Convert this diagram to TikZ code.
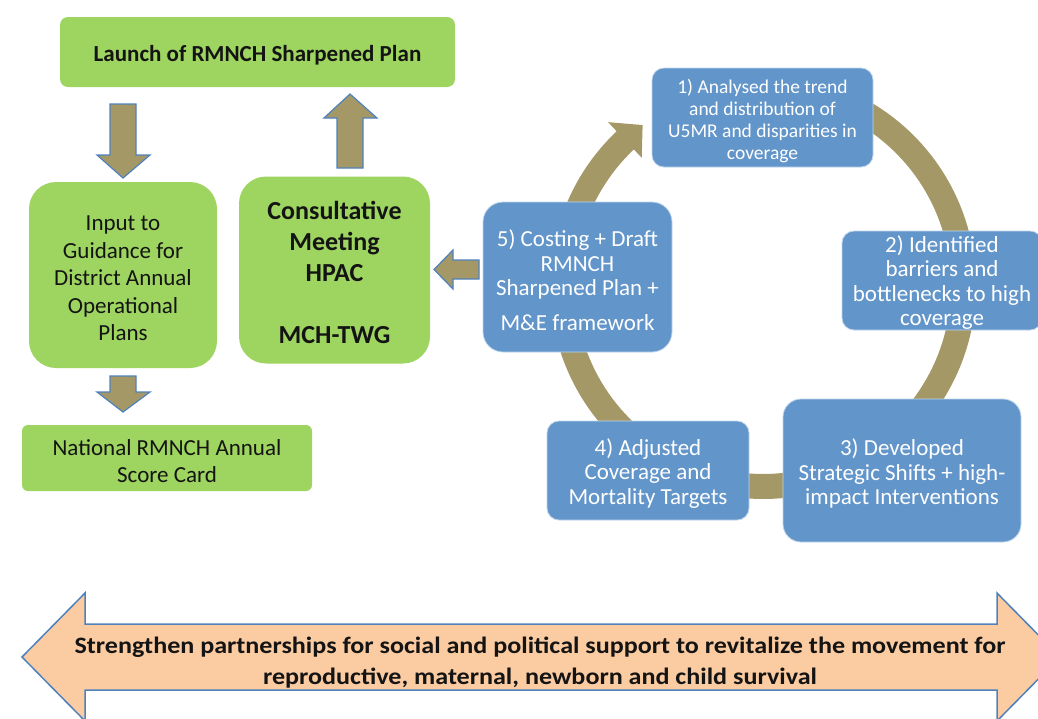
\documentclass[tikz,border=0pt]{standalone}
\usepackage{fontspec}
\setmainfont{Carlito}
\newfontfamily\widefont[FakeStretch=1.11]{Carlito}
\definecolor{grn}{RGB}{158,212,96}
\definecolor{blu}{RGB}{98,149,201}
\definecolor{bluedge}{RGB}{190,212,236}
\definecolor{olv}{RGB}{164,152,102}
\definecolor{arrb}{RGB}{79,129,189}
\definecolor{peach}{RGB}{251,203,161}
\definecolor{txt}{RGB}{20,20,20}
\begin{document}
\begin{tikzpicture}[x=1pt,y=-1pt,
  gbox/.style={fill=grn, inner sep=0pt},
  bbox/.style={fill=blu, draw=bluedge, line width=0.8pt, inner sep=0pt},
  gtext/.style={inner sep=0pt, align=center, text=txt},
  btext/.style={inner sep=0pt, align=center, text=white},
  blockarr/.style={fill=olv, draw=arrb, line width=1.2pt, line join=miter},
  reg/.style={font=\fontsize{23}{24.5}\selectfont}
]
\useasboundingbox (0,0) rectangle (1038,718);
\clip (0,0) rectangle (1038,718);

% ring with arrowhead
\fill[olv] plot[domain=-70:226.6,samples=150] ({763+213*cos(\x)},{286+213*sin(\x)})
  -- ({763+225.5*cos(226.6)},{286+225.5*sin(226.6)})
  -- ({763+201*cos(233.2)},{286+201*sin(233.2)})
  -- ({763+176.5*cos(226.6)},{286+176.5*sin(226.6)})
  -- plot[domain=226.6:-70,samples=150] ({763+188*cos(\x)},{286+188*sin(\x)}) -- cycle;

% green boxes
\node[gbox, rounded corners=8pt, minimum width=395pt, minimum height=70pt] (launch) at (257.5,52) {};
\node[gtext, font=\bfseries\fontsize{23}{27}\selectfont] (launcht) at ([yshift=-3pt]launch.center)
  {Launch of RMNCH Sharpened Plan};
\node[gbox, rounded corners=27pt, minimum width=188pt, minimum height=186pt] (input) at (123,275) {};
\node[gtext, font=\fontsize{23}{27.5}\selectfont] (inputt) at ([yshift=-3.5pt]input.center)
  {Input to\\Guidance for\\District Annual\\Operational\\Plans};
\node[gbox, rounded corners=27pt, minimum width=191pt, minimum height=187pt] (consult) at (334.5,270) {};
\node[gtext, font=\bfseries\fontsize{26}{31}\selectfont] (consultt) at ([yshift=-2pt]consult.center)
  {Consultative\\Meeting\\HPAC\\[31pt]MCH-TWG};
\node[gbox, rounded corners=6pt, minimum width=290pt, minimum height=66pt] (score) at (167,458) {};
\node[gtext, font=\fontsize{23}{27}\selectfont] (scoret) at ([yshift=-3pt]score.center)
  {National RMNCH Annual\\Score Card};

% blue boxes
\node[bbox, rounded corners=12pt, minimum width=221pt, minimum height=99pt] (s1) at (762.5,117.5) {};
\node[btext, font=\fontsize{19.5}{22}\selectfont] (s1t) at ([yshift=-3.5pt]s1.center)
  {1) Analysed the trend\\and distribution of\\U5MR and disparities in\\coverage};
\node[bbox, rounded corners=12pt, minimum width=200pt, minimum height=99pt] (s2) at (942,280.5) {};
\node[btext, reg] (s2t) at ([yshift=-2pt]s2.center)
  {2) Identified\\barriers and\\bottlenecks to high\\coverage};
\node[bbox, rounded corners=18pt, minimum width=238pt, minimum height=143pt] (s3) at (902,470.5) {};
\node[btext, reg] (s3t) at ([yshift=-3pt]s3.center)
  {3) Developed\\Strategic Shifts + high-\\impact Interventions};
\node[bbox, rounded corners=12pt, minimum width=202pt, minimum height=99pt] (s4) at (648,470.5) {};
\node[btext, reg] (s4t) at ([yshift=-3pt]s4.center)
  {4) Adjusted\\Coverage and\\Mortality Targets};
\node[bbox, rounded corners=20pt, minimum width=189pt, minimum height=150pt] (s5) at (577.5,277) {};
\node[btext, reg] (s5t) at ([yshift=-3pt]s5.center)
  {5) Costing + Draft\\RMNCH\\Sharpened Plan +\\[10pt]M\&E framework};

% block arrows
\draw[blockarr] (110,104) -- (136,104) -- (136,155) -- (150,155) -- (123,178) -- (97,155) -- (110,155) -- cycle;
\draw[blockarr] (337,168) -- (363,168) -- (363,118) -- (377,118) -- (350,94) -- (324,118) -- (337,118) -- cycle;
\draw[blockarr] (110,376) -- (136,376) -- (136,392) -- (150,392) -- (123,412) -- (97,392) -- (110,392) -- cycle;
\draw[blockarr] (479,260) -- (479,279) -- (453,279) -- (453,289) -- (434,269.5) -- (453,250) -- (453,260) -- cycle;

% bottom double arrow
\draw[fill=peach, draw=arrb, line width=1.5pt, line join=miter]
  (22,657) -- (85,593) -- (85,624) -- (997,624) -- (997,593) -- (1060,657)
  -- (997,721) -- (997,690) -- (85,690) -- (85,721) -- cycle;
\node[align=center, text=txt, font=\widefont\bfseries\fontsize{23.5}{31}\selectfont] (movement) at (540,663)
  {Strengthen partnerships for social and political support to revitalize the movement for\\reproductive, maternal, newborn and child survival};
\end{tikzpicture}
\end{document}
